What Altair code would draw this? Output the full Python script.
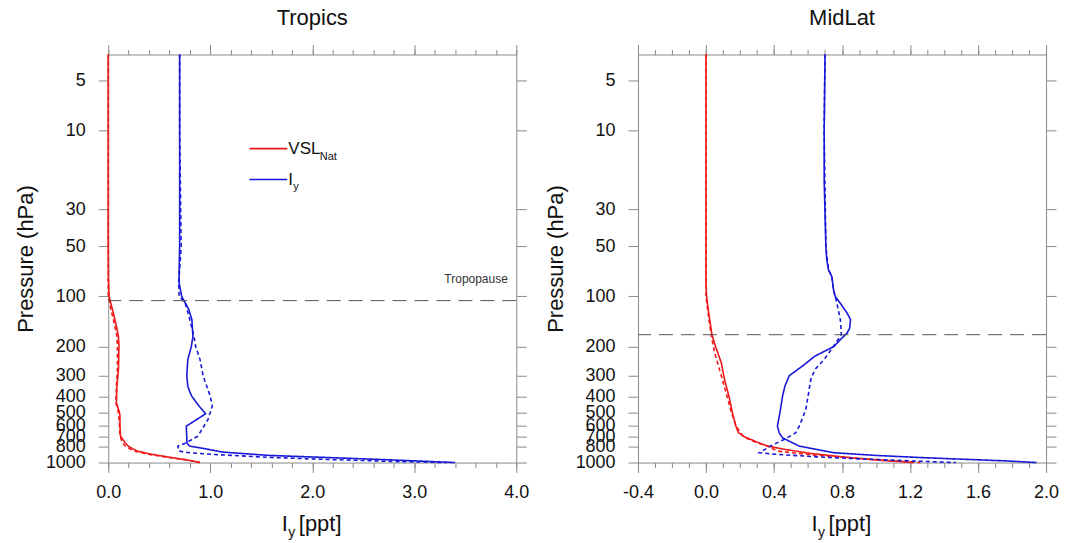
import altair as alt
import pandas as pd

FONT = "Liberation Sans"
RED = "#f01818"
BLUE = "#1818d8"
GRAY = "#8a8a8a"
INK = "#111111"

P_TOP = 3.5
P_BOT = 1000
Y_TICKS = [5, 10, 30, 50, 100, 200, 300, 400, 500, 600, 700, 800, 1000]

# ---------------- Tropics ----------------
tr_vsl_solid_p = [3.5, 10, 50, 80, 100, 126, 151, 174, 200, 276, 347, 437, 500, 525, 600, 692, 760, 800, 851, 891, 933, 968, 1000]
tr_vsl_solid_v = [0, 0, 0, 0.002, 0.008, 0.05, 0.08, 0.10, 0.105, 0.10, 0.085, 0.08, 0.11, 0.115, 0.115, 0.12, 0.165, 0.2, 0.28, 0.42, 0.62, 0.79, 0.90]
tr_vsl_dash_p = [3.5, 100, 126, 151, 174, 200, 276, 347, 437, 500, 600, 692, 760, 800, 851, 891, 933, 968, 1000]
tr_vsl_dash_v = [0, 0.0, 0.035, 0.065, 0.085, 0.09, 0.09, 0.08, 0.075, 0.10, 0.11, 0.115, 0.14, 0.17, 0.25, 0.39, 0.60, 0.78, 0.90]
tr_iy_solid_p = [3.5, 10, 30, 50, 69, 83, 100, 120, 138, 174, 200, 240, 300, 347, 372, 400, 457, 509, 604, 708, 760, 796, 830, 865, 906, 935, 965, 1000]
tr_iy_solid_v = [0.70, 0.70, 0.70, 0.70, 0.695, 0.695, 0.72, 0.79, 0.82, 0.83, 0.815, 0.78, 0.77, 0.78, 0.797, 0.82, 0.89, 0.954, 0.765, 0.77, 0.771, 0.797, 0.97, 1.12, 1.58, 2.2, 2.8, 3.40]
tr_iy_dash_p = [3.5, 10, 30, 50, 69, 83, 100, 110, 138, 174, 200, 240, 300, 399, 458, 551, 693, 760, 796, 853, 873, 895, 930, 960, 985, 1000]
tr_iy_dash_v = [0.70, 0.70, 0.71, 0.715, 0.70, 0.69, 0.695, 0.755, 0.80, 0.84, 0.857, 0.90, 0.93, 1.0, 1.02, 0.977, 0.879, 0.765, 0.683, 0.693, 0.797, 1.05, 1.58, 2.2, 2.8, 3.32]
tr_tropopause = 106

# ---------------- MidLat ----------------
ml_vsl_solid_p = [3.5, 50, 80, 100, 126, 170, 200, 251, 317, 400, 500, 600, 660, 700, 760, 796, 832, 881, 933, 966, 1000]
ml_vsl_solid_v = [0, 0, 0.0, 0.003, 0.016, 0.035, 0.056, 0.09, 0.109, 0.135, 0.155, 0.175, 0.19, 0.226, 0.31, 0.363, 0.46, 0.614, 0.84, 1.006, 1.22]
ml_vsl_dash_p = [3.5, 100, 126, 170, 219, 300, 418, 500, 604, 700, 760, 796, 853, 900, 950, 1000]
ml_vsl_dash_v = [0, 0.0, 0.012, 0.03, 0.051, 0.09, 0.129, 0.15, 0.177, 0.22, 0.30, 0.36, 0.42, 0.62, 0.95, 1.26]
ml_iy_solid_p = [3.5, 10, 20, 50, 60, 69, 76, 91.6, 100, 110, 126, 138, 155, 166, 182, 200, 229, 258, 300, 317, 347, 399, 500, 604, 660, 710, 796, 873, 906, 933, 977, 1000]
ml_iy_solid_v = [0.70, 0.695, 0.695, 0.705, 0.71, 0.72, 0.74, 0.75, 0.76, 0.79, 0.83, 0.85, 0.845, 0.83, 0.79, 0.753, 0.64, 0.577, 0.49, 0.48, 0.464, 0.45, 0.435, 0.42, 0.43, 0.45, 0.548, 0.753, 1.0, 1.26, 1.76, 1.944]
ml_iy_dash_p = [3.5, 10, 50, 69, 76, 91.6, 100, 110, 138, 170, 186, 200, 240, 276, 317, 400, 480, 600, 662, 726, 794, 873, 890, 920, 950, 977, 1000]
ml_iy_dash_v = [0.70, 0.695, 0.705, 0.72, 0.74, 0.75, 0.76, 0.77, 0.79, 0.796, 0.77, 0.75, 0.694, 0.64, 0.616, 0.60, 0.587, 0.55, 0.528, 0.46, 0.38, 0.314, 0.40, 0.62, 0.90, 1.2, 1.47]
ml_tropopause = 170

TR_MAJOR = [0.0, 1.0, 2.0, 3.0, 4.0]
TR_MINOR = [round(0.2 * k, 1) for k in range(21)]
ML_MAJOR = [-0.4, 0.0, 0.4, 0.8, 1.2, 1.6, 2.0]
ML_MINOR = [round(-0.4 + 0.1 * k, 1) for k in range(25)]


def series(p, v, species, style):
    return pd.DataFrame({"p": p, "v": v, "species": species, "style": style, "i": list(range(len(p)))})


def build_df(vs_p, vs_v, vd_p, vd_v, is_p, is_v, id_p, id_v):
    return pd.concat([
        series(vs_p, vs_v, "VSL", "solid"),
        series(vd_p, vd_v, "VSL", "dashed"),
        series(is_p, is_v, "Iy", "solid"),
        series(id_p, id_v, "Iy", "dashed"),
    ], ignore_index=True)


W = 409
H = 409
ONE = pd.DataFrame({"k": [0]})


def txt(s, x, y, size, align="left", baseline="alphabetic", color=INK):
    return alt.Chart(ONE).mark_text(text=s, fontSize=size, font=FONT, align=align,
                                    baseline=baseline, color=color).encode(
        x=alt.value(x), y=alt.value(y))


def panel(title, df, xdom, major, minor, trop_p, extras):
    xs = alt.Scale(domain=xdom, nice=False, zero=False)
    ys = alt.Scale(type="log", domain=[P_TOP, P_BOT], reverse=True, nice=False)

    lines = alt.Chart(df).mark_line(strokeWidth=1.6, clip=False).encode(
        x=alt.X("v:Q", scale=xs, axis=alt.Axis(
            orient="bottom", values=major, tickSize=10, tickColor=GRAY, domain=False, grid=False,
            labelFontSize=18, labelPadding=11, labelFlush=False, labelColor=INK, labelFont=FONT,
            labelExpr="replace(format(datum.value, '.1f'), '\u2212', '-')", title=None)),
        y=alt.Y("p:Q", scale=ys, axis=alt.Axis(
            orient="left", values=Y_TICKS, format="d", tickSize=10, tickColor=GRAY, domain=False,
            grid=False, labelFontSize=18, labelPadding=13, labelFlush=False, labelOverlap=False,
            labelColor=INK, labelFont=FONT, title="Pressure (hPa)", titleFontSize=22,
            titleFont=FONT, titleFontWeight="normal", titleColor=INK, titlePadding=8)),
        color=alt.Color("species:N", scale=alt.Scale(domain=["VSL", "Iy"], range=[RED, BLUE]), legend=None),
        strokeDash=alt.StrokeDash("style:N", scale=alt.Scale(domain=["solid", "dashed"], range=[[1, 0], [4, 3]]), legend=None),
        order="i:Q",
    )

    trop = alt.Chart(pd.DataFrame({"p": [trop_p]})).mark_rule(
        strokeDash=[14, 8], color="#555555", strokeWidth=1).encode(
        y=alt.Y("p:Q", scale=ys, axis=None))

    def xaxis(vals, orient, size):
        return alt.Chart(pd.DataFrame({"v": vals})).mark_point(opacity=0).encode(
            x=alt.X("v:Q", scale=xs, axis=alt.Axis(
                orient=orient, values=vals, tickSize=size, labels=False, domain=False,
                grid=False, title=None, tickColor=GRAY)))

    right = alt.Chart(pd.DataFrame({"p": Y_TICKS})).mark_point(opacity=0).encode(
        y=alt.Y("p:Q", scale=ys, axis=alt.Axis(
            orient="right", values=Y_TICKS, tickSize=10, labels=False, domain=False,
            grid=False, title=None, tickColor=GRAY)))

    xtitle = [
        txt("I", 174, 478, 22),
        txt("y", 180.5, 484, 14),
        txt("[ppt]", 191, 478, 22),
    ]

    layers = [lines, trop, xaxis(minor, "bottom", 5), xaxis(major, "top", 10),
              xaxis(minor, "top", 5), right] + xtitle + extras
    return alt.layer(*layers).resolve_axis(x="independent", y="independent").properties(
        width=W, height=H,
        title=alt.TitleParams(title, fontSize=22, font=FONT, fontWeight="normal", color=INK,
                              anchor="middle", offset=14))


tr_df = build_df(tr_vsl_solid_p, tr_vsl_solid_v, tr_vsl_dash_p, tr_vsl_dash_v,
                 tr_iy_solid_p, tr_iy_solid_v, tr_iy_dash_p, tr_iy_dash_v)
ml_df = build_df(ml_vsl_solid_p, ml_vsl_solid_v, ml_vsl_dash_p, ml_vsl_dash_v,
                 ml_iy_solid_p, ml_iy_solid_v, ml_iy_dash_p, ml_iy_dash_v)

legend_layers = [
    alt.Chart(ONE).mark_rule(color=RED, strokeWidth=1.6).encode(
        x=alt.value(141.5), x2=alt.value(179.5), y=alt.value(94.3)),
    alt.Chart(ONE).mark_rule(color=BLUE, strokeWidth=1.6).encode(
        x=alt.value(141.5), x2=alt.value(179.5), y=alt.value(125.3)),
    txt("VSL", 180.5, 94.3, 17, baseline="middle"),
    txt("Nat", 212, 102.7, 11, baseline="middle"),
    txt("I", 180.5, 125.3, 17, baseline="middle"),
    txt("y", 185.5, 133, 11, baseline="middle"),
    txt("Tropopause", 400.5, 225, 12, align="right", baseline="middle", color="#333333"),
]

left = panel("Tropics", tr_df, [0, 4], TR_MAJOR, TR_MINOR, tr_tropopause, legend_layers)
right = panel("MidLat", ml_df, [-0.4, 2.0], ML_MAJOR, ML_MINOR, ml_tropopause, [])

chart = alt.hconcat(left, right, spacing=13).properties(
    padding={"left": 13.5, "top": 6, "right": 5, "bottom": 5}
).configure(font=FONT).configure_view(stroke=GRAY, strokeWidth=1)

chart.save("out.html", embed_options={"renderer": "svg", "actions": False})
